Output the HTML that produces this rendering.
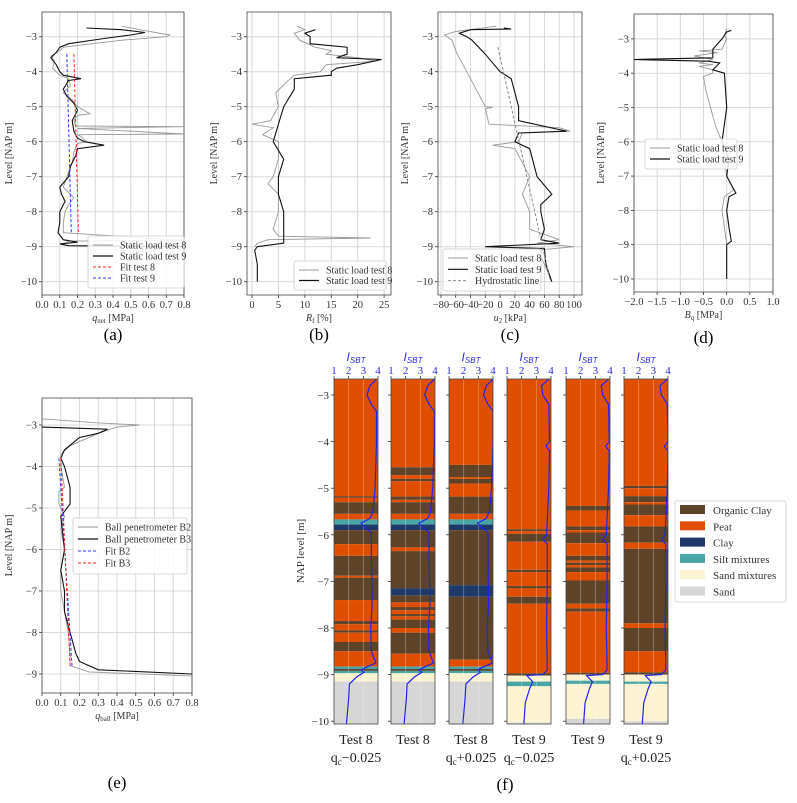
<!DOCTYPE html>
<html><head><meta charset="utf-8">
<style>
html,body{margin:0;padding:0;background:#fff;}
svg{display:block;font-family:"Liberation Serif",serif;}
</style></head>
<body>
<svg id="fig" width="797" height="803" viewBox="0 0 797 803" xmlns="http://www.w3.org/2000/svg"></svg>
<script>
// ---------- data: panel (a) q_net ----------
const A8D=[-2.7,-2.8,-2.95,-3.0,-3.1,-3.3,-3.4,-3.55,-3.7,-3.9,-4.1,-4.2,-4.4,-4.6,-4.8,-5.0,-5.2,-5.25,-5.4,-5.55,-5.57,-5.62,-5.78,-5.8,-5.85,-6.0,-6.05,-6.3,-6.6,-7.0,-7.3,-7.6,-7.8,-8.0,-8.3,-8.6,-8.82,-8.84,-8.88,-8.95];
const A8V=[0.45,0.55,0.72,0.7,0.45,0.12,0.1,0.05,0.07,0.06,0.1,0.15,0.16,0.12,0.17,0.2,0.27,0.2,0.18,0.19,0.8,0.2,0.8,0.2,0.22,0.25,0.2,0.18,0.17,0.14,0.12,0.18,0.15,0.13,0.12,0.12,0.8,0.15,0.14,0.12];
const A9D=[-2.75,-2.8,-2.88,-2.95,-3.05,-3.2,-3.3,-3.45,-3.6,-3.8,-4.0,-4.1,-4.2,-4.25,-4.5,-4.7,-4.9,-5.1,-5.4,-5.7,-5.9,-6.0,-6.1,-6.2,-6.4,-6.7,-7.0,-7.3,-7.5,-7.7,-8.0,-8.3,-8.6,-8.8,-8.87,-8.92,-8.97,-9.0];
const A9V=[0.25,0.45,0.58,0.5,0.35,0.15,0.1,0.08,0.05,0.08,0.1,0.12,0.22,0.15,0.12,0.14,0.18,0.2,0.17,0.18,0.2,0.24,0.35,0.2,0.19,0.16,0.15,0.1,0.11,0.13,0.1,0.1,0.09,0.12,0.2,0.1,0.15,0.8];
const AFITD=[-3.5,-8.6];
const AFIT8=[0.18,0.205];
const AFIT9=[0.14,0.165];
const AXT=[0,0.1,0.2,0.3,0.4,0.5,0.6,0.7,0.8];
// ---------- panel (b) Rf ----------
const B8D=[-2.7,-2.8,-2.9,-3.1,-3.3,-3.4,-3.5,-3.6,-3.7,-3.8,-4.0,-4.1,-4.3,-4.6,-5.0,-5.4,-5.5,-5.6,-5.8,-6.0,-6.5,-7.0,-7.2,-7.5,-8.0,-8.5,-8.7,-8.75,-8.8,-8.9,-9.0];
const B8V=[8.5,10,8,9,12,15,14,20,23.5,14,13,8,6.5,4.5,5,3.5,0,4,2,5,5,4,3,5,5,4,5,22.5,3,1,0.5];
const B9D=[-2.8,-2.9,-3.0,-3.2,-3.3,-3.5,-3.6,-3.65,-3.8,-3.9,-4.0,-4.1,-4.2,-4.5,-5.0,-5.5,-6.0,-6.5,-7.0,-7.5,-8.0,-8.5,-8.9,-9.0,-9.1,-9.5,-10.0];
const B9V=[12,10,11,11,18,18,16,24.5,20,16,15,15,8,8,6,5,4,6,5,5,6,6,6,1,0.5,1,1];
const BXT=[0,5,10,15,20,25];
// ---------- panel (c) u2 ----------
const C8D=[-2.7,-2.85,-2.95,-3.1,-3.5,-4.0,-5.0,-5.02,-5.05,-5.5,-5.6,-5.7,-5.75,-6.0,-6.1,-6.2,-6.6,-7.0,-7.5,-8.0,-8.5,-8.8,-8.9,-9.0,-9.1,-9.5,-10.0];
const C8V=[-5,-60,-75,-65,-58,-45,-20,-10,-20,-15,80,95,30,25,-10,20,30,40,30,40,40,80,50,100,50,60,70];
const C9D=[-2.75,-2.78,-2.8,-2.9,-3.0,-3.1,-3.5,-4.0,-4.2,-4.6,-5.0,-5.4,-5.7,-5.75,-6.0,-6.2,-6.6,-7.0,-7.5,-7.8,-8.0,-8.5,-8.8,-8.9,-9.0,-9.05,-9.5,-10.0];
const C9V=[5,15,-40,-55,-45,-38,-20,0,15,20,25,25,90,25,20,40,45,50,70,55,55,60,55,80,-20,60,62,70];
const CHD=[-3.3,-10.0];
const CHV=[-3,68];
const CXT=[-80,-60,-40,-20,0,20,40,60,80,100];
// ---------- panel (d) Bq ----------
const D8D=[-2.7,-2.9,-3.0,-3.3,-3.35,-3.4,-3.5,-3.6,-3.7,-3.75,-3.8,-3.9,-4.0,-4.1,-4.5,-5.0,-5.5,-6.0,-6.5,-7.0,-7.4,-7.6,-8.0,-8.5,-9.0];
const D8V=[0,-0.05,0,-0.1,-0.6,-0.2,-0.7,-0.3,-0.6,-0.3,-0.6,-0.3,-0.3,-0.5,-0.45,-0.35,-0.25,-0.1,-0.05,0,0.15,-0.05,-0.1,-0.05,0];
const D9D=[-2.75,-2.8,-3.0,-3.3,-3.55,-3.6,-3.65,-3.7,-3.9,-4.0,-5.0,-6.0,-6.5,-7.0,-7.5,-7.6,-8.0,-8.5,-8.9,-9.0,-10.0];
const D9V=[0.1,0,-0.1,-0.3,-0.3,-2.0,-0.4,-0.15,-0.3,-0.05,0,-0.1,0.05,0,0.2,0.05,0,0.05,0.1,0,0];
const DXT=[-2,-1.5,-1,-0.5,0,0.5,1];
// ---------- panel (e) q_ball ----------
const E2D=[-2.85,-2.95,-3.0,-3.05,-3.2,-3.5,-3.7,-4.0,-4.5,-4.6,-4.9,-5.2,-5.5,-6.0,-6.5,-7.0,-7.5,-8.0,-8.5,-8.8,-8.95,-9.05];
const E2V=[0,0.3,0.52,0.4,0.3,0.15,0.1,0.1,0.12,0.09,0.09,0.12,0.1,0.12,0.1,0.1,0.12,0.14,0.15,0.15,0.25,0.8];
const E3D=[-3.05,-3.1,-3.2,-3.3,-3.6,-3.8,-4.0,-4.5,-4.9,-5.2,-6.0,-6.5,-7.0,-7.5,-8.0,-8.5,-8.7,-8.9,-9.0];
const E3V=[0,0.35,0.3,0.2,0.12,0.1,0.12,0.15,0.15,0.1,0.12,0.1,0.12,0.12,0.15,0.18,0.2,0.3,0.8];
const EFITD=[-3.8,-8.8];
const EFIT2=[0.09,0.16];
const EFIT3=[0.1,0.15];
// ---------- panel (f) soil columns ----------
const F1B=[-2.66,-5.17,-5.2,-5.3,-5.55,-5.67,-5.78,-5.9,-6.2,-6.45,-6.88,-6.92,-7.4,-7.85,-7.92,-8.05,-8.1,-8.3,-8.5,-8.83,-8.88,-8.92,-8.97,-9.15,-10.08];
const F1T="P O P O P S C O P O P O P O P O P O P S O S M N".split(" ");
const F2B=[-2.66,-4.55,-4.72,-4.8,-4.85,-5.18,-5.25,-5.3,-5.55,-5.67,-5.78,-5.9,-6.27,-6.35,-7.15,-7.3,-7.45,-7.55,-7.62,-7.7,-7.75,-7.82,-8.0,-8.1,-8.55,-8.83,-8.88,-8.92,-8.97,-9.15,-10.08];
const F2T="P O P O P O P O P S C O P O C O P O P O P O P O P S O S M N".split(" ");
const F3B=[-2.66,-4.5,-4.76,-4.8,-4.9,-5.18,-5.55,-5.67,-5.78,-5.9,-7.08,-7.33,-8.68,-8.83,-8.88,-8.92,-8.97,-9.15,-10.08];
const F3T="P O P O P O P S C O C O P S O S M N".split(" ");
const F4B=[-2.66,-5.88,-5.92,-5.98,-6.15,-6.75,-6.8,-7.1,-7.15,-7.33,-7.48,-8.97,-9.02,-9.15,-9.25,-10.03,-10.08];
const F4T="P O P O P O P O P O P O M S M N".split(" ");
const F5B=[-2.66,-5.38,-5.48,-5.82,-5.9,-5.95,-6.18,-6.45,-6.55,-6.6,-6.65,-6.7,-6.8,-6.98,-7.48,-7.58,-7.65,-8.96,-9.0,-9.13,-9.2,-9.95,-10.08];
const F5T="P O P O P O P O P O P O P O P O P O M S M N".split(" ");
const F6B=[-2.66,-4.95,-5.0,-5.17,-5.3,-5.35,-5.58,-5.82,-6.17,-6.3,-7.9,-8.0,-8.5,-8.95,-9.0,-9.15,-9.2,-10.0,-10.08];
const F6T="P O P O P O P O P O P O P O M S M N".split(" ");
const ISBT8D=[-2.66,-2.8,-3.0,-3.2,-3.35,-4.0,-4.5,-5.0,-5.5,-5.65,-5.75,-5.85,-5.95,-6.5,-7.5,-8.0,-8.5,-8.75,-8.85,-8.9,-8.95,-9.05,-9.2,-9.5,-10.05];
const ISBT8V=[3.95,3.5,3.3,3.6,3.95,3.95,3.9,3.85,3.7,3.5,2.9,3.2,3.6,3.6,3.65,3.55,3.6,3.9,3.2,2.9,3.1,2.6,2.1,2.05,1.9];
const ISBT9D=[-2.66,-2.8,-3.0,-3.2,-4.0,-4.1,-4.2,-5.0,-6.0,-6.1,-6.2,-7.0,-8.0,-8.9,-9.0,-9.02,-9.15,-9.3,-9.6,-10.05];
const ISBT9V=[3.9,3.4,3.5,3.9,3.95,3.7,3.95,3.9,3.75,3.5,3.8,3.8,3.75,3.8,3.5,2.4,2.8,2.6,2.3,2.2];
const ISBTSHIFT=[-0.05,0,0.05,-0.05,0,0.05];
const FNAMES=["Test 8","Test 8","Test 8","Test 9","Test 9","Test 9"];
const FSUB=["\u22120.025","","+0.025","\u22120.025","","+0.025"];
const SOILCODES=["O","P","C","S","M","N"];
const SOILNAMES=["Organic Clay","Peat","Clay","Silt mixtures","Sand mixtures","Sand"];
const SOILCOLORS=["#5e4329","#e04e00","#1f3a68","#4aa6a6","#fbf3d2","#d6d6d6"];

const NS="http://www.w3.org/2000/svg";
const svg=document.getElementById('fig');
function mk(tag,attrs,parent){const e=document.createElementNS(NS,tag);for(const k in attrs)e.setAttribute(k,attrs[k]);(parent||svg).appendChild(e);return e;}
function txt(s,attrs,parent){const t=mk('text',attrs,parent);t.textContent=s;return t;}
function fmt(v,dec){const s=v.toFixed(dec);return s.replace('-','\u2212');}
const YT=[-3,-4,-5,-6,-7,-8,-9,-10];

function makeAxes(name,c){
  const g=mk('g',{});
  
  
  c.sx=v=>c.bx0+(v-c.xmin)/(c.xmax-c.xmin)*(c.bx1-c.bx0);
  c.sy=d=>c.by0+(c.ytop-d)/(c.ytop-c.ybot)*(c.by1-c.by0);
  c.g=g;
  c.xt.forEach(v=>{
    const x=c.sx(v);
    const gl=mk('line',{x1:x,x2:x,y1:c.by0,y2:c.by1,stroke:'#d8d8d8','stroke-width':1},g);
    
    
    mk('line',{x1:x,x2:x,y1:c.by1,y2:c.by1+3,stroke:'#333','stroke-width':0.8},g);
    const t=txt(fmt(v,c.xdec),{x:x,y:c.by1+13,'font-size':10.5,'text-anchor':'middle',fill:'#333'},g);
    
    
  });
  YT.filter(v=>v<=c.ytop&&v>=c.ybot).forEach(v=>{
    const y=c.sy(v);
    const gl=mk('line',{x1:c.bx0,x2:c.bx1,y1:y,y2:y,stroke:'#d8d8d8','stroke-width':1},g);
    
    
    mk('line',{x1:c.bx0-3,x2:c.bx0,y1:y,y2:y,stroke:'#333','stroke-width':0.8},g);
    const t=txt(fmt(v,0),{x:c.bx0-5,y:y+3.5,'font-size':10.5,'text-anchor':'end',fill:'#333'},g);
    
    
  });
  const fr=mk('rect',{x:c.bx0,y:c.by0,width:c.bx1-c.bx0,height:c.by1-c.by0,fill:'none',stroke:'#444','stroke-width':0.8},g);
  
  
  const yl=txt('Level [NAP m]',{x:0,y:0,'font-size':10,'text-anchor':'middle',fill:'#333',transform:`translate(${c.bx0-30},${(c.by0+c.by1)/2}) rotate(-90)`},g);
  
  
  const xl=txt('',{x:(c.bx0+c.bx1)/2,y:c.by1+26,'font-size':10,'text-anchor':'middle',fill:'#333'},g);
  xl.innerHTML=c.xlabel;
  
  
  const pl=txt(c.plabel,{x:(c.bx0+c.bx1)/2,y:c.plY,'font-size':17,'text-anchor':'middle',fill:'#000'});
  
  
  const cp=mk('clipPath',{id:'cp-'+name},g);
  mk('rect',{x:c.bx0,y:c.by0,width:c.bx1-c.bx0,height:c.by1-c.by0},cp);
  return c;
}
function series(c,D,V,color,w,dash,name){
  const pts=D.map((d,i)=>c.sx(V[i]).toFixed(1)+','+c.sy(d).toFixed(1)).join(' ');
  const p=mk('polyline',{points:pts,fill:'none',stroke:color,'stroke-width':w,'stroke-dasharray':dash||'none','clip-path':`url(#cp-${c.name})`},c.g);
  
  
}
function legend(c,x,y,w,h,items,name){
  const g=mk('g',{},c.g);
  
  
  mk('rect',{x:x,y:y,width:w,height:h,rx:2,fill:'#fff','fill-opacity':0.85,stroke:'#ccc','stroke-width':0.8},g);
  items.forEach((it,i)=>{
    const yy=y+9+i*((h-8)/items.length);
    mk('line',{x1:x+5,x2:x+25,y1:yy,y2:yy,stroke:it[1],'stroke-width':it[2],'stroke-dasharray':it[3]||'none'},g);
    const t=txt(it[0],{x:x+32,y:yy+3.5,'font-size':10,fill:'#333'},g);
    
    
  });
}

// (a)
const ca=makeAxes('panel-a',{name:'panel-a',bx0:42,bx1:184,by0:12,by1:295,xmin:0,xmax:0.8,ytop:-2.294,ybot:-10.38,xt:AXT,xdec:1,xlabel:'<tspan font-style="italic">q</tspan><tspan font-size="7" dy="2">net</tspan><tspan dy="-2"> [MPa]</tspan>',plabel:'(a)',plY:340});
series(ca,A8D,A8V,'#999',0.9,null,'series-test-8');
series(ca,A9D,A9V,'#111',1.1,null,'series-test-9');
series(ca,AFITD,AFIT8,'#f22',1,'3,2','fit-test-8');
series(ca,AFITD,AFIT9,'#33f',1,'3,2','fit-test-9');
legend(ca,88,236,96,52,[['Static load test 8','#999',1],['Static load test 9','#111',1.2],['Fit test 8','#f22',1,'3,2'],['Fit test 9','#33f',1,'3,2']],'legend-a');
// (b)
const cb=makeAxes('panel-b',{name:'panel-b',bx0:247,bx1:391,by0:12,by1:295,xmin:-0.95,xmax:26.3,ytop:-2.294,ybot:-10.38,xt:BXT,xdec:0,xlabel:'<tspan font-style="italic">R</tspan><tspan font-size="7" dy="2">f</tspan><tspan dy="-2"> [%]</tspan>',plabel:'(b)',plY:340});
series(cb,B8D,B8V,'#999',0.9,null,'series-test-8');
series(cb,B9D,B9V,'#111',1.1,null,'series-test-9');
legend(cb,294,261,92,29,[['Static load test 8','#999',1],['Static load test 9','#111',1.2]],'legend-b');
// (c)
const cc=makeAxes('panel-c',{name:'panel-c',bx0:438,bx1:582,by0:12,by1:295,xmin:-84,xmax:110.8,ytop:-2.294,ybot:-10.38,xt:CXT,xdec:0,xlabel:'<tspan font-style="italic">u</tspan><tspan font-size="7" dy="2">2</tspan><tspan dy="-2"> [kPa]</tspan>',plabel:'(c)',plY:340});
series(cc,C8D,C8V,'#999',0.9,null,'series-test-8');
series(cc,C9D,C9V,'#111',1.1,null,'series-test-9');
series(cc,CHD,CHV,'#888',1,'3,2','hydrostatic-line');
legend(cc,443,249,98,42,[['Static load test 8','#999',1],['Static load test 9','#111',1.2],['Hydrostatic line','#888',1,'3,2']],'legend-c');
// (d)
const cd=makeAxes('panel-d',{name:'panel-d',bx0:634,bx1:773,by0:14,by1:292,xmin:-2,xmax:1,ytop:-2.274,ybot:-10.38,xt:DXT,xdec:1,xlabel:'<tspan font-style="italic">B</tspan><tspan font-size="7" dy="2">q</tspan><tspan dy="-2"> [MPa]</tspan>',plabel:'(d)',plY:343});
series(cd,D8D,D8V,'#999',0.9,null,'series-test-8');
series(cd,D9D,D9V,'#111',1.1,null,'series-test-9');
legend(cd,645,139,92,30,[['Static load test 8','#999',1],['Static load test 9','#111',1.2]],'legend-d');
// (e)
const ce=makeAxes('panel-e',{name:'panel-e',bx0:42,bx1:192,by0:398,by1:693,xmin:0,xmax:0.8,ytop:-2.349,ybot:-9.458,xt:AXT,xdec:1,xlabel:'<tspan font-style="italic">q</tspan><tspan font-size="7" dy="2">ball</tspan><tspan dy="-2"> [MPa]</tspan>',plabel:'(e)',plY:788});
series(ce,E2D,E2V,'#999',0.9,null,'series-b2');
series(ce,E3D,E3V,'#111',1.1,null,'series-b3');
series(ce,EFITD,EFIT2,'#33f',1,'3,2','fit-b2');
series(ce,EFITD,EFIT3,'#f22',1,'3,2','fit-b3');
legend(ce,73,518,114,56,[['Ball penetrometer B2','#999',1],['Ball penetrometer B3','#111',1.2],['Fit B2','#33f',1,'3,2'],['Fit B3','#f22',1,'3,2']],'legend-e');

// (f)
const FB=[F1B,F2B,F3B,F4B,F5B,F6B];
const FT=[F1T,F2T,F3T,F4T,F5T,F6T];
const colX=[334,391,449,507,566,624];
const colW=44, fTop=379, fBot=724;
const fsy=d=>395+(-3-d)*46.6;
const fg=mk('g',{});


const fcp=mk('clipPath',{id:'cp-f'},fg);
colX.forEach(x=>mk('rect',{x:x,y:fTop,width:colW,height:fBot-fTop},fcp));
FB.forEach((B,ci)=>{
  const x0=colX[ci];
  const cg=mk('g',{'clip-path':'url(#cp-f)'},fg);
  
  
  FT[ci].forEach((t,i)=>{
    const y1=fsy(B[i]),y2=fsy(B[i+1]);
    const r=mk('rect',{x:x0,y:y1,width:colW,height:Math.max(0.8,y2-y1),fill:SOILCOLORS[SOILCODES.indexOf(t)]},cg);
    
    
  });
  const isx=v=>x0+(v-1)/3*colW;
  [2,3].forEach(v=>mk('line',{x1:isx(v),x2:isx(v),y1:fTop,y2:fBot,stroke:'#fff','stroke-opacity':0.35,'stroke-width':0.8},cg));
  const D=ci<3?ISBT8D:ISBT9D, V=ci<3?ISBT8V:ISBT9V;
  const pl=mk('polyline',{points:D.map((d,i)=>isx(Math.min(4,V[i]+ISBTSHIFT[ci])).toFixed(1)+','+fsy(d).toFixed(1)).join(' '),fill:'none',stroke:'#2222ee','stroke-width':1.2},cg);
  
  
  const fr=mk('rect',{x:x0,y:fTop,width:colW,height:fBot-fTop,fill:'none',stroke:'#444','stroke-width':0.8},fg);
  
  
  [1,2,3,4].forEach(v=>{
    const tl=txt(String(v),{x:isx(v),y:374,'font-size':11,'text-anchor':'middle',fill:'#2a2ae0'},fg);
    
    
    mk('line',{x1:isx(v),x2:isx(v),y1:fTop-3,y2:fTop,stroke:'#333','stroke-width':0.8},fg);
  });
  const it=txt('',{x:x0+colW/2,y:361,'font-size':12,'text-anchor':'middle',fill:'#2a2ae0','font-family':'Liberation Sans, sans-serif'},fg);
  it.innerHTML='<tspan font-style="italic">I</tspan><tspan font-size="8" dy="2" font-style="italic">SBT</tspan>';
  
  
  YT.forEach(v=>mk('line',{x1:x0-3,x2:x0,y1:fsy(v),y2:fsy(v),stroke:'#333','stroke-width':0.8},fg));
  const nl=txt(FNAMES[ci],{x:x0+colW/2,y:744,'font-size':14,'text-anchor':'middle',fill:'#222'},fg);
  
  
  if(FSUB[ci]){
    const sl=txt('',{x:x0+colW/2,y:762,'font-size':14,'text-anchor':'middle',fill:'#222'},fg);
    sl.innerHTML='q<tspan font-size="9" dy="3">c</tspan><tspan dy="-3">'+FSUB[ci]+'</tspan>';
    
    
  }
});
YT.forEach(v=>{
  const t=txt(fmt(v,0),{x:329,y:fsy(v)+4,'font-size':11,'text-anchor':'end',fill:'#333'},fg);
  
  
});
const fyl=txt('NAP level [m]',{x:0,y:0,'font-size':11,'text-anchor':'middle',fill:'#333',transform:'translate(304,551) rotate(-90)'},fg);


const flab=txt('(f)',{x:505,y:790,'font-size':17,'text-anchor':'middle',fill:'#000'},fg);


const flg=mk('g',{},fg);


mk('rect',{x:675,y:501,width:111,height:101,rx:2,fill:'#fff',stroke:'#ccc','stroke-width':0.8},flg);
SOILNAMES.forEach((n,i)=>{
  const y=505+i*16.3;
  mk('rect',{x:680,y:y,width:25,height:9,fill:SOILCOLORS[i]},flg);
  const t=txt(n,{x:713,y:y+9,'font-size':11,fill:'#333'},flg);
  
  
});
</script>
</body></html>
